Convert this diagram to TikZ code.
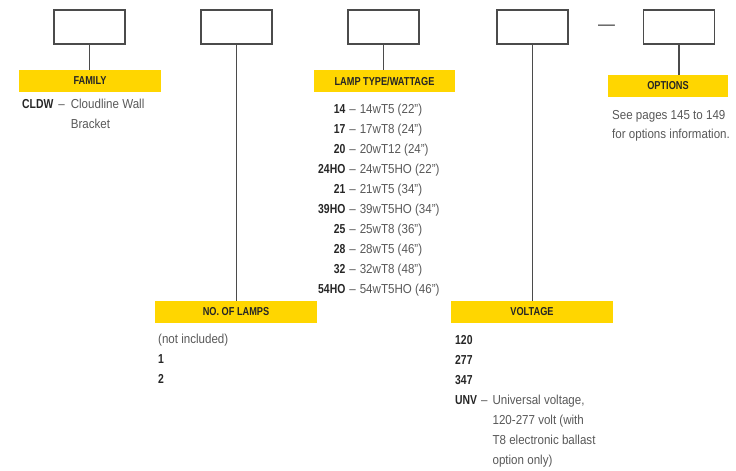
\documentclass[tikz,border=0pt]{standalone}
\usepackage{fontspec}
\setmainfont{Liberation Sans}[FakeStretch=0.89, BoldFeatures={FakeStretch=0.8}]
\definecolor{barfill}{RGB}{255,214,0}
\definecolor{txtgray}{RGB}{88,88,88}
\definecolor{linegray}{RGB}{75,75,75}
\newcommand{\pnum}[1]{\textcolor{black!85}{\textbf{#1}}}

\begin{document}
\begin{tikzpicture}[x=1pt, y=-1pt, every node/.style={font=\fontsize{13}{20}\selectfont, text=txtgray}, bx/.style={draw=linegray, line width=1.2pt, minimum width=71pt, minimum height=34pt, inner sep=0pt}, bar/.style={fill=barfill, minimum height=22pt, inner sep=0pt, font=\fontsize{11.5}{13}\selectfont\bfseries, text=black!85}, lst/.style={anchor=base west, inner sep=0pt}]
	\useasboundingbox (0,0) rectangle (736,471);
	% code boxes
	\node[bx] (famb) at (89.5,27) {};
	\node[bx] (lampb) at (236.5,27) {};
	\node[bx] (typeb) at (383.5,27) {};
	\node[bx] (voltb) at (532.5,27) {};
	\node[bx] (optb) at (679,27) {};
	\node[text=linegray, font=\fontsize{19}{19}\selectfont, inner sep=0pt] (dash) at (606.5,28) {\textemdash};
	% yellow headings
	\node[bar, minimum width=142pt] (fam) at (90,81) {FAMILY};
	\node[bar, minimum width=141pt] (type) at (384.5,81) {LAMP TYPE/WATTAGE};
	\node[bar, minimum width=162pt] (lamp) at (236,312) {NO. OF LAMPS};
	\node[bar, minimum width=162pt] (volt) at (532,312) {VOLTAGE};
	\node[bar, minimum width=120pt] (opt) at (668,86) {OPTIONS};
	\draw[linegray, line width=1.3pt] (famb.south) -- (famb.south |- fam.north);
	\draw[linegray, line width=1.3pt] (lampb.south) -- (lampb.south |- lamp.north);
	\draw[linegray, line width=1.3pt] (typeb.south) -- (typeb.south |- type.north);
	\draw[linegray, line width=1.3pt] (voltb.south) -- (voltb.south |- volt.north);
	\draw[linegray, line width=1.3pt] (optb.south) -- (optb.south |- opt.north);
	% lists
	\node[lst] (famlist) at (22,108) {\begin{tabular}[t]{@{}l@{\hspace{5pt}}l@{\hspace{6pt}}l@{}}
		\pnum{CLDW} & -- & Cloudline Wall\\
		& & Bracket
	\end{tabular}};
	\node[lst] (typelist) at (318,113) {\begin{tabular}[t]{@{}r@{\hspace{4pt}}l@{\hspace{4pt}}l@{}}
		\pnum{14} & -- & 14wT5 (22")\\
		\pnum{17} & -- & 17wT8 (24")\\
		\pnum{20} & -- & 20wT12 (24")\\
		\pnum{24HO} & -- & 24wT5HO (22")\\
		\pnum{21} & -- & 21wT5 (34")\\
		\pnum{39HO} & -- & 39wT5HO (34")\\
		\pnum{25} & -- & 25wT8 (36")\\
		\pnum{28} & -- & 28wT5 (46")\\
		\pnum{32} & -- & 32wT8 (48")\\
		\pnum{54HO} & -- & 54wT5HO (46")
	\end{tabular}};
	\node[lst] (lamplist) at (158,343) {\begin{tabular}[t]{@{}l@{}}
		(not included)\\
		\pnum{1}\\
		\pnum{2}
	\end{tabular}};
	\node[lst] (voltlist) at (455,344) {\begin{tabular}[t]{@{}l@{\hspace{4pt}}l@{\hspace{5pt}}l@{}}
		\pnum{120}\\
		\pnum{277}\\
		\pnum{347}\\
		\pnum{UNV} & -- & Universal voltage,\\
		& & 120-277 volt (with\\
		& & T8 electronic ballast\\
		& & option only)
	\end{tabular}};
	\node[lst] (optlist) at (612,119) {\fontsize{13}{19}\selectfont\begin{tabular}[t]{@{}l@{}}
		See pages 145 to 149\\
		for options information.
	\end{tabular}};
\end{tikzpicture}
\end{document}
